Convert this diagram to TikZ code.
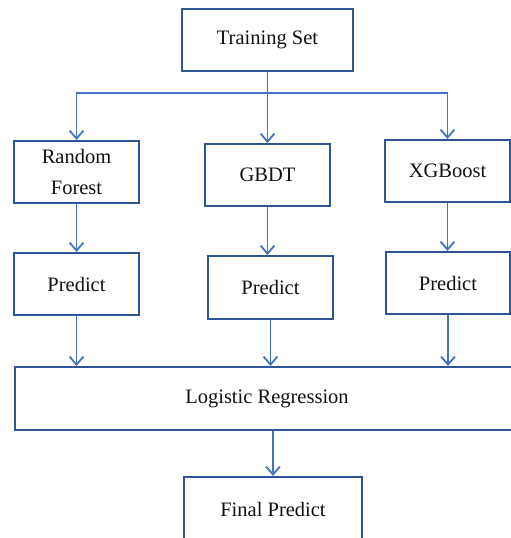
\documentclass[tikz,border=0pt]{standalone}
\usepackage{fontspec}
\setmainfont{Liberation Serif}
\usetikzlibrary{arrows.meta}
\definecolor{boxblue}{HTML}{2F5597}
\definecolor{arrblue}{HTML}{4472C4}
\definecolor{txt}{HTML}{111111}
\tikzset{
  box/.style={draw=boxblue, line width=2.2pt, inner sep=0pt, align=center,
    text=txt, font=\fontsize{20.5}{31}\selectfont},
  conn/.style={draw=arrblue, line width=1.8pt},
  arr/.style={conn, -{Straight Barb[length=8pt,width=14pt,line width=1.8pt]}}
}
\begin{document}
\begin{tikzpicture}[x=1pt,y=-1pt]
\useasboundingbox (0,0) rectangle (511,538);
\clip (0,0) rectangle (511,538);
\node[box, minimum width=171pt, minimum height=62pt] (ts) at (267.5,40) {Training Set};
\node[box, minimum width=125pt, minimum height=62pt] (rf) at (76.5,172) {Random\\Forest};
\node[box, minimum width=125pt, minimum height=62pt] (gbdt) at (267.5,175) {GBDT};
\node[box, minimum width=125pt, minimum height=62pt] (xgb) at (447.5,171) {XGBoost};
\node[box, minimum width=125pt, minimum height=62pt] (p1) at (76.5,284) {Predict};
\node[box, minimum width=125pt, minimum height=63pt] (p2) at (270.5,287.5) {Predict};
\node[box, minimum width=124pt, minimum height=62pt] (p3) at (448,283) {Predict};
\node[box, minimum width=504pt, minimum height=63pt] (lr) at (267,398.5) {Logistic Regression};
\node[box, minimum width=178pt, minimum height=64pt] (fp) at (273,509) {Final Predict};
\coordinate (bus) at (267.5,93);
\draw[conn] (ts.south) -- (bus);
\draw[arr] (bus) -| (rf.north);
\draw[arr] (bus) -- (gbdt.north);
\draw[arr] (bus) -| (xgb.north);
\draw[arr] (rf.south) -- (p1.north);
\draw[arr] (gbdt.south) -- (gbdt.south |- p2.north);
\draw[arr] (xgb.south) -- (xgb.south |- p3.north);
\draw[arr] (p1.south) -- (p1.south |- lr.north);
\draw[arr] (p2.south) -- (p2.south |- lr.north);
\draw[arr] (p3.south) -- (p3.south |- lr.north);
\draw[arr] (fp.north |- lr.south) -- (fp.north);
\end{tikzpicture}
\end{document}
